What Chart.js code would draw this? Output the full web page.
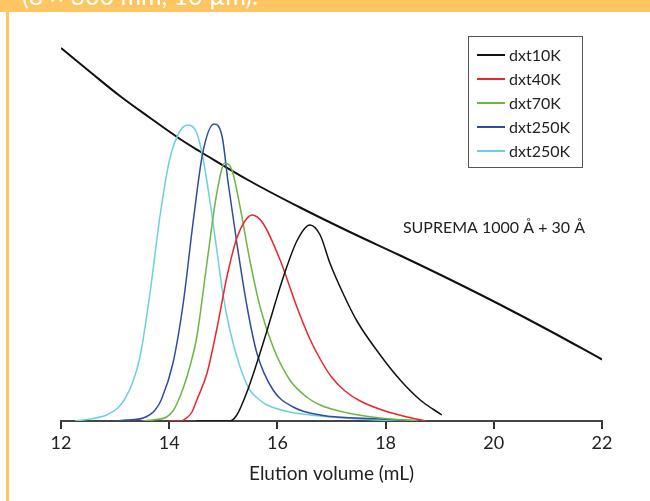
<!DOCTYPE html>
<html>
<head>
<meta charset="utf-8">
<script src="https://cdn.jsdelivr.net/npm/chart.js@4"></script>
<style>
  body { margin: 0; background: #fff; }
  canvas { display: block; }
</style>
</head>
<body>
<canvas id="chart" width="650" height="501"></canvas>
<script>
// x axis ticks (mL)
const volTicks = [12, 14, 16, 18, 20, 22];

// SUPREMA 1000 Å + 30 Å calibration curve
const calibVol = [12.00, 12.54, 13.09, 13.65, 14.20, 14.57, 15.49, 16.42, 17.34, 18.27, 19.19, 20.11, 21.04, 22.00];
const calibVal = [373, 349, 325, 303, 282, 269.5, 240, 213.5, 189, 165.5, 141.5, 116.5, 90, 61.5];

// peaks (detector signal, same arbitrary units)
const vol10K = [14.50, 15.12, 15.25, 15.43, 15.62, 15.80, 15.96, 16.11, 16.36, 16.60, 16.79, 16.97, 17.21, 17.47, 17.90, 18.27, 18.64, 19.04];
const sig10K = [0, 0, 6, 28, 58, 89, 118, 144, 180, 196, 186, 158, 128, 100, 66, 41, 21, 6];

const vol40K = [14.00, 14.20, 14.32, 14.42, 14.51, 14.70, 14.88, 15.07, 15.25, 15.40, 15.53, 15.73, 16.05, 16.36, 16.60, 16.79, 17.00, 17.25, 17.53, 17.99, 18.40, 18.75];
const sig40K = [0, 0, 3, 9, 21, 48, 92, 145, 183, 200, 206, 198, 161, 114, 82, 62, 44, 30, 20, 10, 4, 0];

const vol70K = [13.50, 13.70, 13.95, 14.07, 14.14, 14.26, 14.40, 14.51, 14.69, 14.88, 15.03, 15.16, 15.31, 15.49, 15.68, 15.92, 16.23, 16.54, 16.79, 17.30, 17.90, 18.60];
const sig70K = [0, 1, 4, 10, 17, 33, 58, 84, 155, 228, 258, 251, 214, 161, 114, 74, 41, 24, 16, 8, 3, 0];

const vol250K = [13.00, 13.21, 13.52, 13.74, 13.86, 14.07, 14.26, 14.44, 14.62, 14.83, 14.98, 15.09, 15.25, 15.44, 15.62, 15.92, 16.29, 16.79, 17.90, 18.64];
const sig250K = [0, 1, 3, 11, 22, 58, 118, 198, 268, 297, 284, 238, 178, 114, 68, 31, 14, 6, 2, 0];

const vol250Kb = [12.26, 12.54, 12.84, 13.05, 13.18, 13.32, 13.46, 13.65, 13.83, 14.01, 14.20, 14.35, 14.51, 14.62, 14.75, 14.88, 14.99, 15.12, 15.31, 15.49, 15.65, 15.81, 16.23, 16.79, 17.50, 18.30];
const sig250Kb = [0, 2, 6, 13, 22, 38, 64, 130, 205, 262, 290, 296, 288, 264, 221, 171, 128, 91, 54, 31, 22, 16, 9, 5, 2, 0];

const seriesNames = ['dxt10K', 'dxt40K', 'dxt70K', 'dxt250K', 'dxt250K'];
const seriesColors = ['#111111', '#e8262b', '#6cb645', '#2f4d9c', '#6dcfe0'];
const calibLabel = 'SUPREMA 1000 Å + 30 Å';
const headerText = '(8 × 300 mm, 10 µm).';

const FONT = 'Lato';
const toPts = (xs, ys) => xs.map((x, i) => ({ x, y: ys[i] }));

const peaks = [[vol10K, sig10K], [vol40K, sig40K], [vol70K, sig70K], [vol250K, sig250K], [vol250Kb, sig250Kb]];
const datasets = peaks.map((p, i) => ({
    label: seriesNames[i],
    data: toPts(p[0], p[1]),
    borderColor: seriesColors[i],
    borderWidth: 1.5,
    cubicInterpolationMode: 'monotone'
}));
datasets.push({ label: '', data: toPts(calibVol, calibVal), borderColor: '#111', borderWidth: 2, tension: 0.4, isCalib: true });

// orange page frame behind the chart
const frame = {
    id: 'frame',
    beforeDraw(chart) {
        const c = chart.ctx;
        c.save();
        c.fillStyle = '#fff';
        c.fillRect(0, 0, chart.width, chart.height);
        c.fillStyle = '#fdc663';
        c.fillRect(0, 0, chart.width, 12);
        c.fillRect(6, 12, 3, chart.height - 12);
        c.fillStyle = '#fff';
        c.font = `25px ${FONT}`;
        c.textBaseline = 'alphabetic';
        c.fillText(headerText, 22, 5);
        c.restore();
    }
};

// boxed legend in the upper right
const legendBox = {
    id: 'legendBox',
    afterDraw(chart) {
        const c = chart.ctx;
        const items = chart.data.datasets.filter(d => !d.isCalib);
        c.save();
        c.strokeStyle = '#555';
        c.lineWidth = 1;
        c.strokeRect(468.5, 36.5, 114, 131);
        c.font = `16px ${FONT}`;
        c.textBaseline = 'middle';
        items.forEach((d, i) => {
            const y = 55 + i * 24;
            c.strokeStyle = d.borderColor;
            c.lineWidth = 2;
            c.beginPath(); c.moveTo(477, y); c.lineTo(505, y); c.stroke();
            c.fillStyle = '#222';
            c.fillText(d.label, 509, y + 1);
        });
        c.restore();
    }
};

// label next to the calibration curve
const curveLabel = {
    id: 'curveLabel',
    afterDraw(chart) {
        const c = chart.ctx, xs = chart.scales.x, ys = chart.scales.y;
        c.save();
        c.font = `16px ${FONT}`;
        c.fillStyle = '#222';
        c.textBaseline = 'middle';
        c.fillText(calibLabel, xs.getPixelForValue(18.32), ys.getPixelForValue(193));
        c.restore();
    }
};

new Chart(document.getElementById('chart'), {
    type: 'line',
    data: { datasets },
    options: {
        responsive: false,
        animation: false,
        layout: { padding: { left: 61, right: 48, top: 21, bottom: 0 } },
        plugins: { legend: { display: false }, tooltip: { enabled: false } },
        elements: { point: { radius: 0 } },
        scales: {
            x: {
                type: 'linear', min: 12, max: 22,
                afterBuildTicks: s => { s.ticks = volTicks.map(v => ({ value: v })); },
                afterFit: s => { s.height = 80; },
                grid: { drawOnChartArea: false, drawTicks: true, tickLength: 8, color: '#333', lineWidth: 2 },
                border: { color: '#444', width: 2 },
                ticks: { color: '#222', font: { family: FONT, size: 18 }, padding: 3, maxRotation: 0 },
                title: { display: true, text: 'Elution volume (mL)', color: '#222', font: { family: FONT, size: 19 }, padding: { top: 4, bottom: 16 } }
            },
            y: { display: false, min: 0, max: 400 }
        }
    },
    plugins: [frame, legendBox, curveLabel]
});
</script>
</body>
</html>
